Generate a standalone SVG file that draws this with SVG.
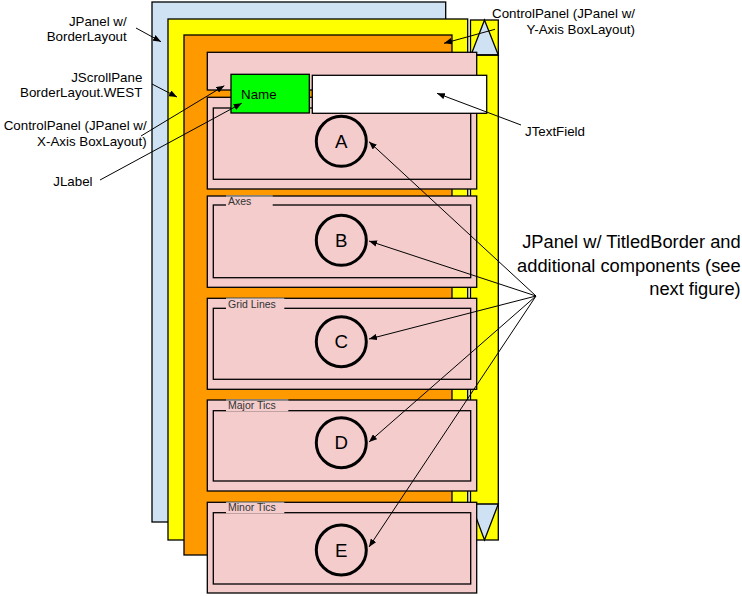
<svg xmlns="http://www.w3.org/2000/svg" width="742" height="596" viewBox="0 0 742 596">
<defs>
<style>
.box{stroke:#000;stroke-width:1.3}
.blue{fill:#cfe2f3}
.yel{fill:#ffff00}
.org{fill:#ff9900}
.pink{fill:#f4cccc}
.inner{fill:none;stroke:#000;stroke-width:1.3}
.circ{fill:none;stroke:#000;stroke-width:3}
.lbl{font-family:"Liberation Sans",Arial,sans-serif;font-size:13.33px;fill:#000}
.big{font-family:"Liberation Sans",Arial,sans-serif;font-size:18.3px;fill:#000}
.ttl{font-family:"Liberation Sans",Arial,sans-serif;font-size:10.5px;fill:#333}
.let{font-family:"Liberation Sans",Arial,sans-serif;font-size:18.67px;fill:#000;text-anchor:middle}
.tbox{fill:#f4cccc;stroke:none}
.tline{stroke:#999;stroke-width:1.3}
.arr{stroke:#000;stroke-width:1;fill:none;marker-end:url(#ah)}
</style>
<marker id="ah" viewBox="0 0 10 8" refX="10" refY="4" markerWidth="8" markerHeight="6.4" markerUnits="userSpaceOnUse" orient="auto">
<path d="M0,0 L10,4 L0,8 z" fill="#000"/>
</marker>
</defs>

<g id="jpanel-border">
<rect class="box blue" x="152" y="2" width="293.7" height="520"/>
</g>
<g id="jscrollpane">
<rect class="box yel" x="168" y="19" width="299.7" height="521"/>
</g>
<g id="scrollbar">
<rect class="box yel" x="470.5" y="20" width="27.8" height="520"/>
<polygon class="box blue" points="484.5,20 471,55 498.3,55"/>
<line class="box" x1="470.5" y1="55" x2="498.3" y2="55"/>
<polygon class="box blue" points="471,504 498.3,504 484.5,540"/>
</g>
<g id="controlpanel-y">
<rect class="box org" x="184" y="35" width="268" height="520"/>
</g>

<g id="controlpanel-x">
<rect class="box pink" x="207.3" y="52.3" width="269.4" height="37.7"/>
</g>
<g id="panel-a">
<rect class="box pink" x="207.3" y="97.3" width="269.4" height="91.7"/>
<rect class="inner" x="213.3" y="108" width="257.4" height="71.3"/>
<circle class="circ" cx="341.3" cy="141.3" r="25"/>
<text class="let" x="341.3" y="148">A</text>
</g>
<g id="panel-b">
<rect class="box pink" x="207.3" y="196" width="269.4" height="91.3"/>
<rect class="inner" x="213.3" y="205" width="257.4" height="72.7"/>
<rect class="tbox" x="226" y="196.7" width="46.7" height="9.6"/>
<line class="tline" x1="226" y1="196" x2="272.7" y2="196"/>
<text class="ttl" x="228" y="205">Axes</text>
<circle class="circ" cx="341.3" cy="240.3" r="25"/>
<text class="let" x="341.3" y="247">B</text>
</g>
<g id="panel-c">
<rect class="box pink" x="207.3" y="298.3" width="269.4" height="91"/>
<rect class="inner" x="213.3" y="308.3" width="257.4" height="71"/>
<rect class="tbox" x="226" y="299" width="58.3" height="10"/>
<line class="tline" x1="226" y1="298.3" x2="284.3" y2="298.3"/>
<text class="ttl" x="228" y="308">Grid Lines</text>
<circle class="circ" cx="341.3" cy="341.7" r="25"/>
<text class="let" x="341.3" y="348.4">C</text>
</g>
<g id="panel-d">
<rect class="box pink" x="207.3" y="400" width="269.4" height="91"/>
<rect class="inner" x="213.3" y="410.7" width="257.4" height="70.3"/>
<rect class="tbox" x="226" y="400.7" width="62.3" height="10.7"/>
<line class="tline" x1="226" y1="400" x2="288.3" y2="400"/>
<text class="ttl" x="228" y="409">Major Tics</text>
<circle class="circ" cx="341.3" cy="442.7" r="25"/>
<text class="let" x="341.3" y="449.4">D</text>
</g>
<g id="panel-e">
<rect class="box pink" x="207.3" y="502.3" width="269.4" height="90.7"/>
<rect class="inner" x="213.3" y="512.7" width="257.4" height="71.3"/>
<rect class="tbox" x="226" y="503" width="58.3" height="10.4"/>
<line class="tline" x1="226" y1="502.3" x2="284.3" y2="502.3"/>
<text class="ttl" x="228" y="511">Minor Tics</text>
<circle class="circ" cx="341.3" cy="550" r="25"/>
<text class="let" x="341.3" y="556.7">E</text>
</g>
<g id="jlabel">
<rect class="box" fill="#00ff00" x="231" y="74.3" width="78.3" height="38.7"/>
<text class="lbl" x="241" y="99">Name</text>
</g>
<g id="jtextfield">
<rect class="box" fill="#ffffff" x="312.3" y="75.3" width="174.4" height="38"/>
</g>

<g id="connectors">
<line class="arr" x1="136" y1="28" x2="161" y2="41.7"/>
<line class="arr" x1="152" y1="84" x2="177" y2="97"/>
<line class="arr" x1="141" y1="136" x2="224.3" y2="85.7"/>
<line class="arr" x1="100" y1="180" x2="241.7" y2="103.3"/>
<line class="arr" x1="495" y1="29.3" x2="444" y2="43.3"/>
<line class="arr" x1="521" y1="125" x2="437" y2="93.3"/>
<line class="arr" x1="536" y1="296" x2="369" y2="141.7"/>
<line class="arr" x1="536" y1="296" x2="369" y2="241"/>
<line class="arr" x1="536" y1="296" x2="369" y2="339"/>
<line class="arr" x1="536" y1="296" x2="369" y2="442"/>
<line class="arr" x1="536" y1="296" x2="369" y2="547"/>
</g>

<g id="labels">
<text class="lbl" text-anchor="end" x="126.7" y="25.5">JPanel w/</text>
<text class="lbl" text-anchor="end" x="126.7" y="41">BorderLayout</text>
<text class="lbl" text-anchor="end" x="142.3" y="81.7">JScrollPane</text>
<text class="lbl" text-anchor="end" x="142.3" y="96.7">BorderLayout.WEST</text>
<text class="lbl" text-anchor="end" x="146.7" y="130">ControlPanel (JPanel w/</text>
<text class="lbl" text-anchor="end" x="146.7" y="145.7">X-Axis BoxLayout)</text>
<text class="lbl" x="53.3" y="185.7">JLabel</text>
<text class="lbl" text-anchor="end" x="635" y="18">ControlPanel (JPanel w/</text>
<text class="lbl" text-anchor="end" x="635" y="33.5">Y-Axis BoxLayout)</text>
<text class="lbl" x="525" y="136">JTextField</text>
<text class="big" text-anchor="end" x="740.7" y="248.3">JPanel w/ TitledBorder and</text>
<text class="big" text-anchor="end" x="740.7" y="271.8">additional components (see</text>
<text class="big" text-anchor="end" x="740.7" y="295.3">next figure)</text>
</g>
</svg>
